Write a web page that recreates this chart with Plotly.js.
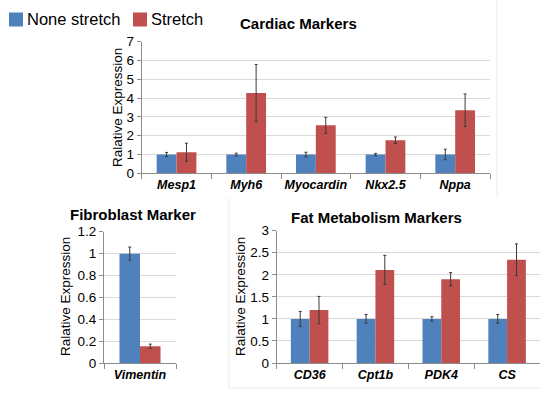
<!DOCTYPE html>
<html>
<head>
<meta charset="utf-8">
<script src="https://cdn.plot.ly/plotly-3.0.1.min.js"></script>
<style>html,body{margin:0;padding:0;background:#fff}#chart{width:541px;height:400px}</style>
</head>
<body>
<div id="chart"></div>
<script>
// ---- data ----
const cardiacGenes = ["Mesp1", "Myh6", "Myocardin", "Nkx2.5", "Nppa"];
const cardiacNone = [1, 1, 1, 1, 1];
const cardiacNoneErr = [0.11, 0.07, 0.12, 0.06, 0.28];
const cardiacStretch = [1.12, 4.27, 2.55, 1.76, 3.35];
const cardiacStretchErr = [0.48, 1.52, 0.43, 0.17, 0.87];

const fibroGenes = ["Vimentin"];
const fibroNone = [1];
const fibroNoneErr = [0.06];
const fibroStretch = [0.155];
const fibroStretchErr = [0.02];

const fatGenes = ["CD36", "Cpt1b", "PDK4", "CS"];
const fatNone = [1, 1, 1, 1];
const fatNoneErr = [0.17, 0.1, 0.05, 0.1];
const fatStretch = [1.2, 2.11, 1.9, 2.34];
const fatStretchErr = [0.31, 0.33, 0.15, 0.36];

const seriesNames = ["None stretch", "Stretch"];
const cardiacTicks = [0, 1, 2, 3, 4, 5, 6, 7];

// ---- styles ----
const BLUE = "#4F81BD", RED = "#C0504D", ERR = "#3a3a3a";
const FONT = "Liberation Sans, Arial, sans-serif";

function bar(x, y, err, name, color, xa, ya) {
  return {
    type: "bar", x: x, y: y, name: name, xaxis: xa, yaxis: ya,
    marker: {color: color}, showlegend: false,
    error_y: {type: "data", array: err, visible: true, color: ERR, thickness: 1, width: 1.5}
  };
}

const data = [
  bar(cardiacGenes, cardiacNone, cardiacNoneErr, seriesNames[0], BLUE, "x", "y"),
  bar(cardiacGenes, cardiacStretch, cardiacStretchErr, seriesNames[1], RED, "x", "y"),
  bar(fibroGenes, fibroNone, fibroNoneErr, seriesNames[0], BLUE, "x2", "y2"),
  bar(fibroGenes, fibroStretch, fibroStretchErr, seriesNames[1], RED, "x2", "y2"),
  bar(fatGenes, fatNone, fatNoneErr, seriesNames[0], BLUE, "x3", "y3"),
  bar(fatGenes, fatStretch, fatStretchErr, seriesNames[1], RED, "x3", "y3")
];

const AXC = "#8c8c8c", GRID = "#d9d9d9";
function xax(domain, anchor) {
  return {domain: domain, anchor: anchor, type: "category", showline: true, linecolor: AXC, linewidth: 1,
    ticks: "outside", tickson: "boundaries", ticklen: 5, tickcolor: AXC, showgrid: false, tickangle: 0,
    tickfont: {family: FONT, size: 12.5, color: "#000", weight: "bold", style: "italic"}, fixedrange: true};
}
function yax(domain, anchor, range, dtick) {
  return {domain: domain, anchor: anchor, range: range, dtick: dtick, showline: true, linecolor: AXC, linewidth: 1,
    ticks: "outside", ticklen: 4, tickcolor: AXC, showgrid: true, gridcolor: GRID, gridwidth: 1, zeroline: false,
    tickfont: {family: FONT, size: 13.5, color: "#000"}, fixedrange: true};
}

const W = 541, H = 400;
const px = v => v / W, py = v => 1 - v / H;

function legendBox(x0, color) {
  return {type: "rect", xref: "paper", yref: "paper", x0: px(x0), x1: px(x0 + 14), y0: py(26.5), y1: py(12.5),
    fillcolor: color, line: {width: 0}};
}
function legendText(x, text) {
  return {text: text, xref: "paper", yref: "paper", x: px(x), y: py(19.5), showarrow: false,
    font: {family: FONT, size: 16.5, color: "#000"}, xanchor: "left", yanchor: "middle"};
}
function title(text, x, y) {
  return {text: text, xref: "paper", yref: "paper", x: px(x), y: py(y), showarrow: false,
    font: {family: FONT, size: 15, weight: "bold"}, xanchor: "center", yanchor: "middle"};
}
function ytitle(x, y) {
  return {text: "Ralative Expression", xref: "paper", yref: "paper", x: px(x), y: py(y), showarrow: false, textangle: -90,
    font: {family: FONT, size: 13.5}, xanchor: "center", yanchor: "middle"};
}

const layout = {
  width: W, height: H, margin: {l: 0, r: 0, t: 0, b: 0},
  paper_bgcolor: "#fff", plot_bgcolor: "#fff", showlegend: false,
  barmode: "group", bargap: 0.43, bargroupgap: 0,
  font: {family: FONT, color: "#000"},
  xaxis: xax([px(141.7), px(490)], "y"),
  yaxis: Object.assign(yax([py(173.3), py(41.7)], "x", [0, 7], 1), {tickvals: cardiacTicks}),
  xaxis2: xax([px(104), px(176)], "y2"),
  yaxis2: yax([py(363.3), py(231.7)], "x2", [0, 1.2], 0.2),
  xaxis3: xax([px(276.7), px(540)], "y3"),
  yaxis3: yax([py(363), py(230.7)], "x3", [0, 3], 0.5),
  annotations: [
    legendText(25, seriesNames[0]),
    legendText(149, seriesNames[1]),
    title("Cardiac Markers", 298, 23),
    title("Fibroblast Marker", 133, 214),
    title("Fat Metabolism Markers", 376, 217),
    ytitle(117, 108),
    ytitle(65, 297),
    ytitle(240, 297)
  ],
  shapes: [
    legendBox(9, BLUE),
    legendBox(133, RED),
    {type: "line", xref: "paper", yref: "paper", x0: px(497), x1: px(497), y0: py(0), y1: py(198), line: {color: "#ececec", width: 1}},
    {type: "line", xref: "paper", yref: "paper", x0: px(229), x1: px(229), y0: py(198), y1: py(388), line: {color: "#ececec", width: 1}},
    {type: "line", xref: "paper", yref: "paper", x0: px(229), x1: px(541), y0: py(388), y1: py(388), line: {color: "#ececec", width: 1}}
  ]
};

Plotly.newPlot("chart", data, layout, {staticPlot: true, displayModeBar: false});
</script>
</body>
</html>
